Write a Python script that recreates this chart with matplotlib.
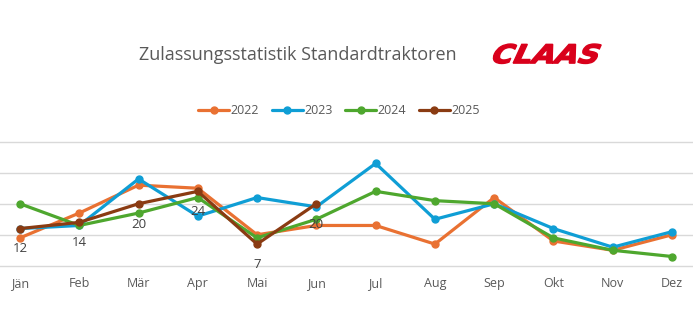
import numpy as np
import matplotlib.pyplot as plt
from matplotlib.textpath import TextPath
from matplotlib.patches import PathPatch
from matplotlib.font_manager import FontProperties
from matplotlib.transforms import Affine2D, IdentityTransform

plt.rcParams['font.family'] = ['Open Sans', 'DejaVu Sans']

# Monatliche Zulassungen Standardtraktoren
monate = ['Jän', 'Feb', 'Mär', 'Apr', 'Mai', 'Jun', 'Jul', 'Aug', 'Sep', 'Okt', 'Nov', 'Dez']
werte_2022 = [9, 17, 26, 25, 10, 13, 13, 7, 22, 8, 5, 10]
werte_2023 = [12, 13, 28, 16, 22, 19, 33, 15, 20, 12, 6, 11]
werte_2024 = [20, 13, 17, 22, 9, 15, 24, 21, 20, 9, 5, 3]
werte_2025 = [12, 14, 20, 24, 7, 20]

serien = [
    ('2022', werte_2022, '#E97132'),
    ('2023', werte_2023, '#0F9ED5'),
    ('2024', werte_2024, '#4EA72E'),
    ('2025', werte_2025, '#8A3B12'),
]

fig = plt.figure(figsize=(6.93, 3.28), dpi=100)
ax = fig.add_axes([0, 0.1896, 1, 0.3784])

x = np.arange(len(monate))
for jahr, werte, farbe in serien:
    ax.plot(x[:len(werte)], werte, color=farbe, lw=2.3, marker='o', ms=5,
            label=jahr, solid_capstyle='round', zorder=3)

# Datenbeschriftung nur für das laufende Jahr
for xi, v in zip(x, werte_2025):
    ax.annotate(str(v), (xi, v), xytext=(0, -10), textcoords='offset points',
                ha='center', va='top', fontsize=9.5, color='#404040', zorder=4)

ax.set_ylim(0, 40)
ax.set_xlim(-0.337, 11.354)
ax.set_yticks([0, 10, 20, 30, 40])
ax.yaxis.grid(True, color='#D9D9D9', lw=1)
for gl in ax.get_ygridlines():
    gl.set_clip_on(False)
ax.set_axisbelow(True)
ax.tick_params(axis='y', left=False, labelleft=False)
ax.set_xticks(x)
ax.set_xticklabels(monate, fontsize=9, color='#595959')
ax.tick_params(axis='x', length=0, pad=8)
for s in ax.spines.values():
    s.set_visible(False)

leg = fig.legend(loc='center', bbox_to_anchor=(0.489, 0.662), ncol=4, frameon=False,
                 fontsize=9, handlelength=2.5, handletextpad=0.1, columnspacing=1.0)
for t in leg.get_texts():
    t.set_color('#595959')

fig.text(0.43, 0.833, 'Zulassungsstatistik Standardtraktoren', ha='center', va='center',
         fontsize=13, color='#595959')

# Schriftzug als Pfad: fett, geschert und in die Logobox skaliert (Pixel)
logo = TextPath((0, 0), 'CLAAS', size=20,
                prop=FontProperties(family='DejaVu Sans', weight='bold'))
bb = logo.get_extents()
box_x0, box_x1 = 490, 603
box_y0, box_y1 = 328 - 63.5, 328 - 44
scherung = 0.4
sx = (box_x1 - box_x0) / (bb.width + scherung * bb.height)
sy = (box_y1 - box_y0) / bb.height
logo_tr = (Affine2D().translate(-bb.x0, -bb.y0)
           .skew(np.arctan(scherung), 0)
           .scale(sx, sy)
           .translate(box_x0, box_y0))
fig.patches.append(PathPatch(logo_tr.transform_path(logo), facecolor='#D9001B',
                             edgecolor='#D9001B', lw=1.0, transform=IdentityTransform()))

fig.savefig('out.png', dpi=100)
